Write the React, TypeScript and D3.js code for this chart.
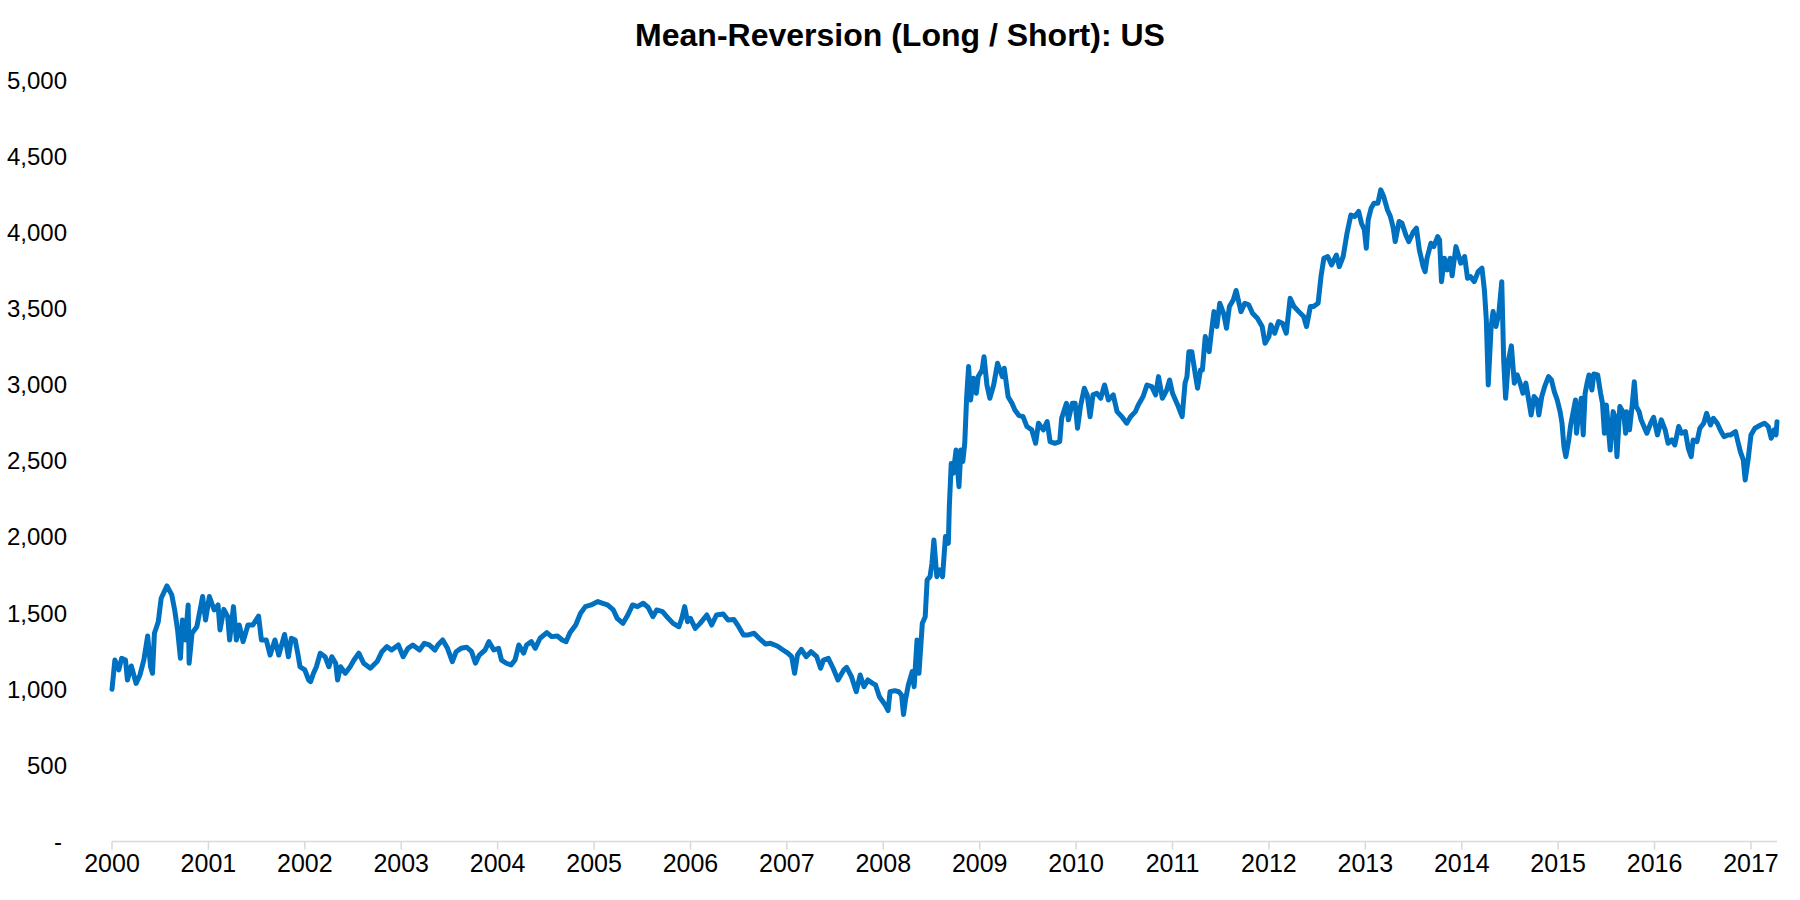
import * as d3 from "d3"

// index level, [decimal year, value]
const span2000to2004: [number, number][] = [
  [2000.0, 1000], [2000.03, 1192], [2000.07, 1127], [2000.1, 1203], [2000.14, 1192],
  [2000.16, 1061], [2000.2, 1153], [2000.25, 1039], [2000.29, 1094], [2000.33, 1192],
  [2000.37, 1350], [2000.4, 1148], [2000.42, 1105], [2000.44, 1368], [2000.48, 1444],
  [2000.51, 1598], [2000.57, 1679], [2000.62, 1620], [2000.65, 1521], [2000.68, 1390],
  [2000.71, 1204], [2000.73, 1455], [2000.76, 1324], [2000.79, 1554], [2000.8, 1171],
  [2000.83, 1368], [2000.88, 1411], [2000.92, 1543], [2000.94, 1609], [2000.97, 1455],
  [2001.01, 1609], [2001.06, 1521], [2001.1, 1554], [2001.12, 1390], [2001.16, 1525],
  [2001.2, 1477], [2001.22, 1324], [2001.26, 1543], [2001.29, 1324], [2001.32, 1422],
  [2001.36, 1313], [2001.41, 1422], [2001.46, 1422], [2001.52, 1481], [2001.55, 1324],
  [2001.6, 1324], [2001.64, 1225], [2001.69, 1324], [2001.73, 1225], [2001.79, 1360],
  [2001.83, 1214], [2001.86, 1335], [2001.9, 1324], [2001.93, 1225], [2001.95, 1148],
  [2002.0, 1127], [2002.04, 1061], [2002.06, 1050], [2002.09, 1105], [2002.12, 1148],
  [2002.16, 1237], [2002.21, 1214], [2002.25, 1148], [2002.28, 1214], [2002.32, 1171],
  [2002.34, 1061], [2002.37, 1148], [2002.42, 1105], [2002.47, 1148], [2002.51, 1192],
  [2002.56, 1237], [2002.61, 1171], [2002.68, 1138], [2002.75, 1182], [2002.8, 1247],
  [2002.85, 1280], [2002.9, 1258], [2002.97, 1291], [2003.02, 1214], [2003.07, 1269],
  [2003.12, 1291], [2003.19, 1258], [2003.24, 1302], [2003.29, 1291], [2003.35, 1258],
  [2003.38, 1291], [2003.43, 1324], [2003.48, 1269], [2003.53, 1181], [2003.57, 1247],
  [2003.62, 1269], [2003.68, 1276], [2003.73, 1247], [2003.77, 1171], [2003.81, 1225],
  [2003.87, 1258], [2003.91, 1313],
]

const span2004to2008: [number, number][] = [
  [2003.96, 1258], [2004.01, 1269], [2004.04, 1192], [2004.09, 1171], [2004.14, 1160],
  [2004.18, 1192], [2004.22, 1291], [2004.27, 1237], [2004.3, 1291], [2004.35, 1313],
  [2004.39, 1269], [2004.44, 1335], [2004.51, 1372], [2004.56, 1346], [2004.62, 1350],
  [2004.67, 1324], [2004.71, 1313], [2004.75, 1372], [2004.81, 1422], [2004.86, 1499],
  [2004.91, 1543], [2004.97, 1554], [2005.04, 1576], [2005.09, 1565], [2005.14, 1554],
  [2005.2, 1521], [2005.24, 1466], [2005.3, 1433], [2005.35, 1488], [2005.4, 1554],
  [2005.45, 1543], [2005.51, 1565], [2005.56, 1539], [2005.61, 1477], [2005.65, 1521],
  [2005.71, 1510], [2005.77, 1466], [2005.82, 1433], [2005.88, 1411], [2005.91, 1466],
  [2005.94, 1543], [2005.97, 1444], [2006.0, 1466], [2006.05, 1400], [2006.1, 1433],
  [2006.17, 1488], [2006.22, 1422], [2006.27, 1488], [2006.34, 1495], [2006.39, 1455],
  [2006.45, 1459], [2006.5, 1411], [2006.55, 1357], [2006.6, 1357], [2006.66, 1368],
  [2006.73, 1324], [2006.78, 1297], [2006.83, 1302], [2006.9, 1284], [2006.96, 1258],
  [2007.01, 1237], [2007.05, 1214], [2007.08, 1105], [2007.11, 1225], [2007.15, 1262],
  [2007.2, 1214], [2007.25, 1247], [2007.31, 1214], [2007.35, 1138], [2007.38, 1192],
  [2007.43, 1203], [2007.48, 1138], [2007.53, 1061], [2007.59, 1127], [2007.62, 1144],
  [2007.67, 1083], [2007.72, 984], [2007.76, 1094], [2007.8, 1017], [2007.84, 1061],
  [2007.89, 1039], [2007.92, 1028], [2007.96, 951], [2008.02, 897], [2008.05, 860],
  [2008.07, 984], [2008.12, 991], [2008.16, 984], [2008.19, 962], [2008.21, 835],
  [2008.23, 929], [2008.26, 1028], [2008.3, 1116], [2008.32, 1017], [2008.35, 1324],
  [2008.37, 1105],
]

const span2008to2012: [number, number][] = [
  [2008.405, 1434], [2008.435, 1477], [2008.455, 1718], [2008.485, 1740], [2008.505, 1828],
  [2008.525, 1981], [2008.555, 1740], [2008.585, 1784], [2008.615, 1740], [2008.645, 2003],
  [2008.675, 1959], [2008.685, 2200], [2008.705, 2484], [2008.725, 2419], [2008.755, 2572],
  [2008.785, 2331], [2008.805, 2572], [2008.825, 2496], [2008.845, 2616], [2008.865, 2922],
  [2008.885, 3120], [2008.905, 2900], [2008.935, 3043], [2008.965, 2945], [2008.985, 3054],
  [2009.025, 3098], [2009.045, 3185], [2009.075, 2999], [2009.105, 2912], [2009.145, 2999],
  [2009.185, 3142], [2009.235, 3054], [2009.255, 3109], [2009.295, 2922], [2009.335, 2879],
  [2009.365, 2835], [2009.405, 2800], [2009.45, 2791], [2009.49, 2726], [2009.54, 2704],
  [2009.58, 2616], [2009.61, 2748], [2009.66, 2704], [2009.7, 2759], [2009.73, 2627],
  [2009.78, 2616], [2009.83, 2627], [2009.85, 2780], [2009.9, 2879], [2009.92, 2770],
  [2009.96, 2879], [2009.99, 2879], [2010.015, 2715], [2010.045, 2857], [2010.085, 2978],
  [2010.115, 2934], [2010.145, 2791], [2010.175, 2934], [2010.215, 2945], [2010.255, 2912],
  [2010.295, 2999], [2010.335, 2901], [2010.385, 2934], [2010.425, 2824], [2010.475, 2791],
  [2010.525, 2748], [2010.565, 2791], [2010.615, 2824], [2010.645, 2868], [2010.695, 2923],
  [2010.735, 2999], [2010.785, 2988], [2010.825, 2934], [2010.855, 3054], [2010.895, 2912],
  [2010.94, 2966], [2010.97, 3032], [2011.0, 2945], [2011.06, 2857], [2011.1, 2791],
  [2011.13, 3011], [2011.15, 3054], [2011.17, 3218], [2011.2, 3218], [2011.24, 3054],
  [2011.26, 2978], [2011.29, 3098], [2011.31, 3098], [2011.34, 3317], [2011.38, 3218],
  [2011.4, 3328], [2011.43, 3481], [2011.46, 3383], [2011.49, 3536], [2011.53, 3470],
  [2011.56, 3372], [2011.59, 3514], [2011.63, 3558], [2011.66, 3620], [2011.71, 3481],
  [2011.75, 3536], [2011.79, 3526], [2011.83, 3470], [2011.88, 3438], [2011.93, 3383],
  [2011.96, 3273],
]

const span2012to2014: [number, number][] = [
  [2012.0, 3317], [2012.02, 3394], [2012.06, 3339], [2012.1, 3416], [2012.14, 3405],
  [2012.18, 3339], [2012.22, 3569], [2012.26, 3514], [2012.31, 3481], [2012.36, 3449],
  [2012.39, 3383], [2012.43, 3514], [2012.46, 3514], [2012.51, 3536], [2012.54, 3711],
  [2012.57, 3832], [2012.61, 3843], [2012.65, 3788], [2012.7, 3853], [2012.73, 3777],
  [2012.77, 3843], [2012.81, 3996], [2012.85, 4116], [2012.89, 4106], [2012.93, 4139],
  [2012.96, 4062], [2012.99, 4018], [2013.01, 3898], [2013.03, 4084], [2013.06, 4160],
  [2013.09, 4193], [2013.13, 4193], [2013.16, 4281], [2013.19, 4237], [2013.23, 4149],
  [2013.26, 4106], [2013.29, 4029], [2013.31, 3941], [2013.35, 4073], [2013.38, 4062],
  [2013.42, 3985], [2013.45, 3941], [2013.5, 4007], [2013.53, 4029], [2013.56, 3887],
  [2013.6, 3777], [2013.62, 3744], [2013.64, 3832], [2013.68, 3930], [2013.71, 3908],
  [2013.75, 3974], [2013.77, 3952], [2013.79, 3678], [2013.82, 3832], [2013.85, 3755],
  [2013.88, 3832], [2013.9, 3716], [2013.94, 3908], [2013.99, 3799], [2014.03, 3843],
  [2014.06, 3700], [2014.09, 3711], [2014.13, 3678], [2014.17, 3744], [2014.21, 3766],
]

const span2014to2017: [number, number][] = [
  [2014.235, 3624], [2014.255, 3427], [2014.275, 2999], [2014.305, 3383], [2014.325, 3482],
  [2014.355, 3383], [2014.385, 3471], [2014.415, 3678], [2014.435, 3163], [2014.455, 2912],
  [2014.485, 3163], [2014.515, 3256], [2014.545, 3011], [2014.575, 3065], [2014.605, 3011],
  [2014.635, 2945], [2014.665, 3011], [2014.7, 2879], [2014.72, 2802], [2014.75, 2923],
  [2014.78, 2901], [2014.8, 2802], [2014.83, 2923], [2014.86, 2988], [2014.9, 3054],
  [2014.93, 3032], [2014.96, 2955], [2014.99, 2901], [2015.02, 2824], [2015.04, 2748],
  [2015.06, 2594], [2015.08, 2528], [2015.11, 2638], [2015.13, 2736], [2015.16, 2835],
  [2015.18, 2901], [2015.19, 2682], [2015.21, 2791], [2015.24, 2912], [2015.26, 2671],
  [2015.28, 2945], [2015.3, 3011], [2015.32, 3065], [2015.35, 2966], [2015.37, 3071],
  [2015.41, 3065], [2015.44, 2945], [2015.46, 2879], [2015.48, 2682], [2015.5, 2868],
  [2015.52, 2726], [2015.54, 2572], [2015.57, 2824], [2015.59, 2791], [2015.61, 2528],
  [2015.64, 2857], [2015.68, 2813], [2015.7, 2682], [2015.71, 2824], [2015.74, 2704],
  [2015.77, 2879], [2015.79, 3021], [2015.81, 2857], [2015.84, 2824], [2015.86, 2770],
  [2015.89, 2726], [2015.92, 2682], [2015.96, 2748], [2015.99, 2787], [2016.03, 2671],
  [2016.07, 2770], [2016.11, 2704], [2016.14, 2616], [2016.18, 2638], [2016.21, 2605],
  [2016.25, 2726], [2016.28, 2682], [2016.32, 2693], [2016.35, 2583], [2016.38, 2528],
  [2016.4, 2638], [2016.44, 2627], [2016.47, 2715], [2016.51, 2748], [2016.54, 2813],
  [2016.58, 2736], [2016.61, 2780], [2016.65, 2748], [2016.69, 2693], [2016.72, 2660],
  [2016.76, 2671], [2016.79, 2671], [2016.84, 2693], [2016.86, 2638], [2016.89, 2561],
  [2016.92, 2507], [2016.94, 2375], [2016.97, 2507], [2017.0, 2671], [2017.04, 2715],
  [2017.1, 2736], [2017.14, 2748], [2017.18, 2726], [2017.21, 2649], [2017.24, 2704],
  [2017.26, 2671], [2017.27, 2758],
]

const series = [
  ...span2000to2004,
  ...span2004to2008,
  ...span2008to2012,
  ...span2012to2014,
  ...span2014to2017,
]

const yTicks = [0, 500, 1000, 1500, 2000, 2500, 3000, 3500, 4000, 4500, 5000]
const yearTicks = d3.range(2000, 2018)

const title = "Mean-Reversion (Long / Short): US"

export default function App() {
  const width = 1800
  const height = 900
  const plotLeft = 112
  const plotRight = 1777
  const plotBottom = 841.5
  const plotTop = 80.4
  const font = "'Liberation Sans', Arial, sans-serif"

  const x = d3
    .scaleLinear()
    .domain([2000, d3.max(series, (d) => d[0]) as number])
    .range([plotLeft, plotRight])
  const y = d3.scaleLinear().domain([0, 5000]).range([plotBottom, plotTop])

  const line = d3
    .line<[number, number]>()
    .x((d) => x(d[0]))
    .y((d) => y(d[1]))

  const fmt = d3.format(",")

  return (
    <div style={{ position: "absolute", left: 0, top: 0 }}>
      <svg width={width} height={height} style={{ display: "block", background: "#fff" }}>
        <text
          x={width / 2}
          y={46}
          textAnchor="middle"
          fontFamily={font}
          fontWeight="bold"
          fontSize={32}
          fill="#000"
        >
          {title}
        </text>

        <g fontFamily={font} fontSize={24} fill="#000">
          {yTicks.map((t) => (
            <text
              key={t}
              x={t === 0 ? 62 : 67}
              y={y(t)}
              dy="0.35em"
              textAnchor="end"
            >
              {t === 0 ? "-" : fmt(t)}
            </text>
          ))}
        </g>

        <line
          x1={plotLeft}
          x2={plotRight}
          y1={plotBottom}
          y2={plotBottom}
          stroke="#d9d9d9"
          strokeWidth={1.5}
        />
        <g>
          {yearTicks.map((t) => (
            <line
              key={t}
              x1={x(t)}
              x2={x(t)}
              y1={plotBottom}
              y2={plotBottom + 8}
              stroke="#d9d9d9"
              strokeWidth={1.5}
            />
          ))}
        </g>
        <g fontFamily={font} fontSize={25} fill="#000">
          {yearTicks.map((t) => (
            <text key={t} x={x(t)} y={plotBottom + 30} textAnchor="middle">
              {t}
            </text>
          ))}
        </g>

        <path
          d={line(series) ?? undefined}
          fill="none"
          stroke="#0070C0"
          strokeWidth={5}
          strokeLinejoin="round"
          strokeLinecap="round"
        />
      </svg>
    </div>
  )
}
